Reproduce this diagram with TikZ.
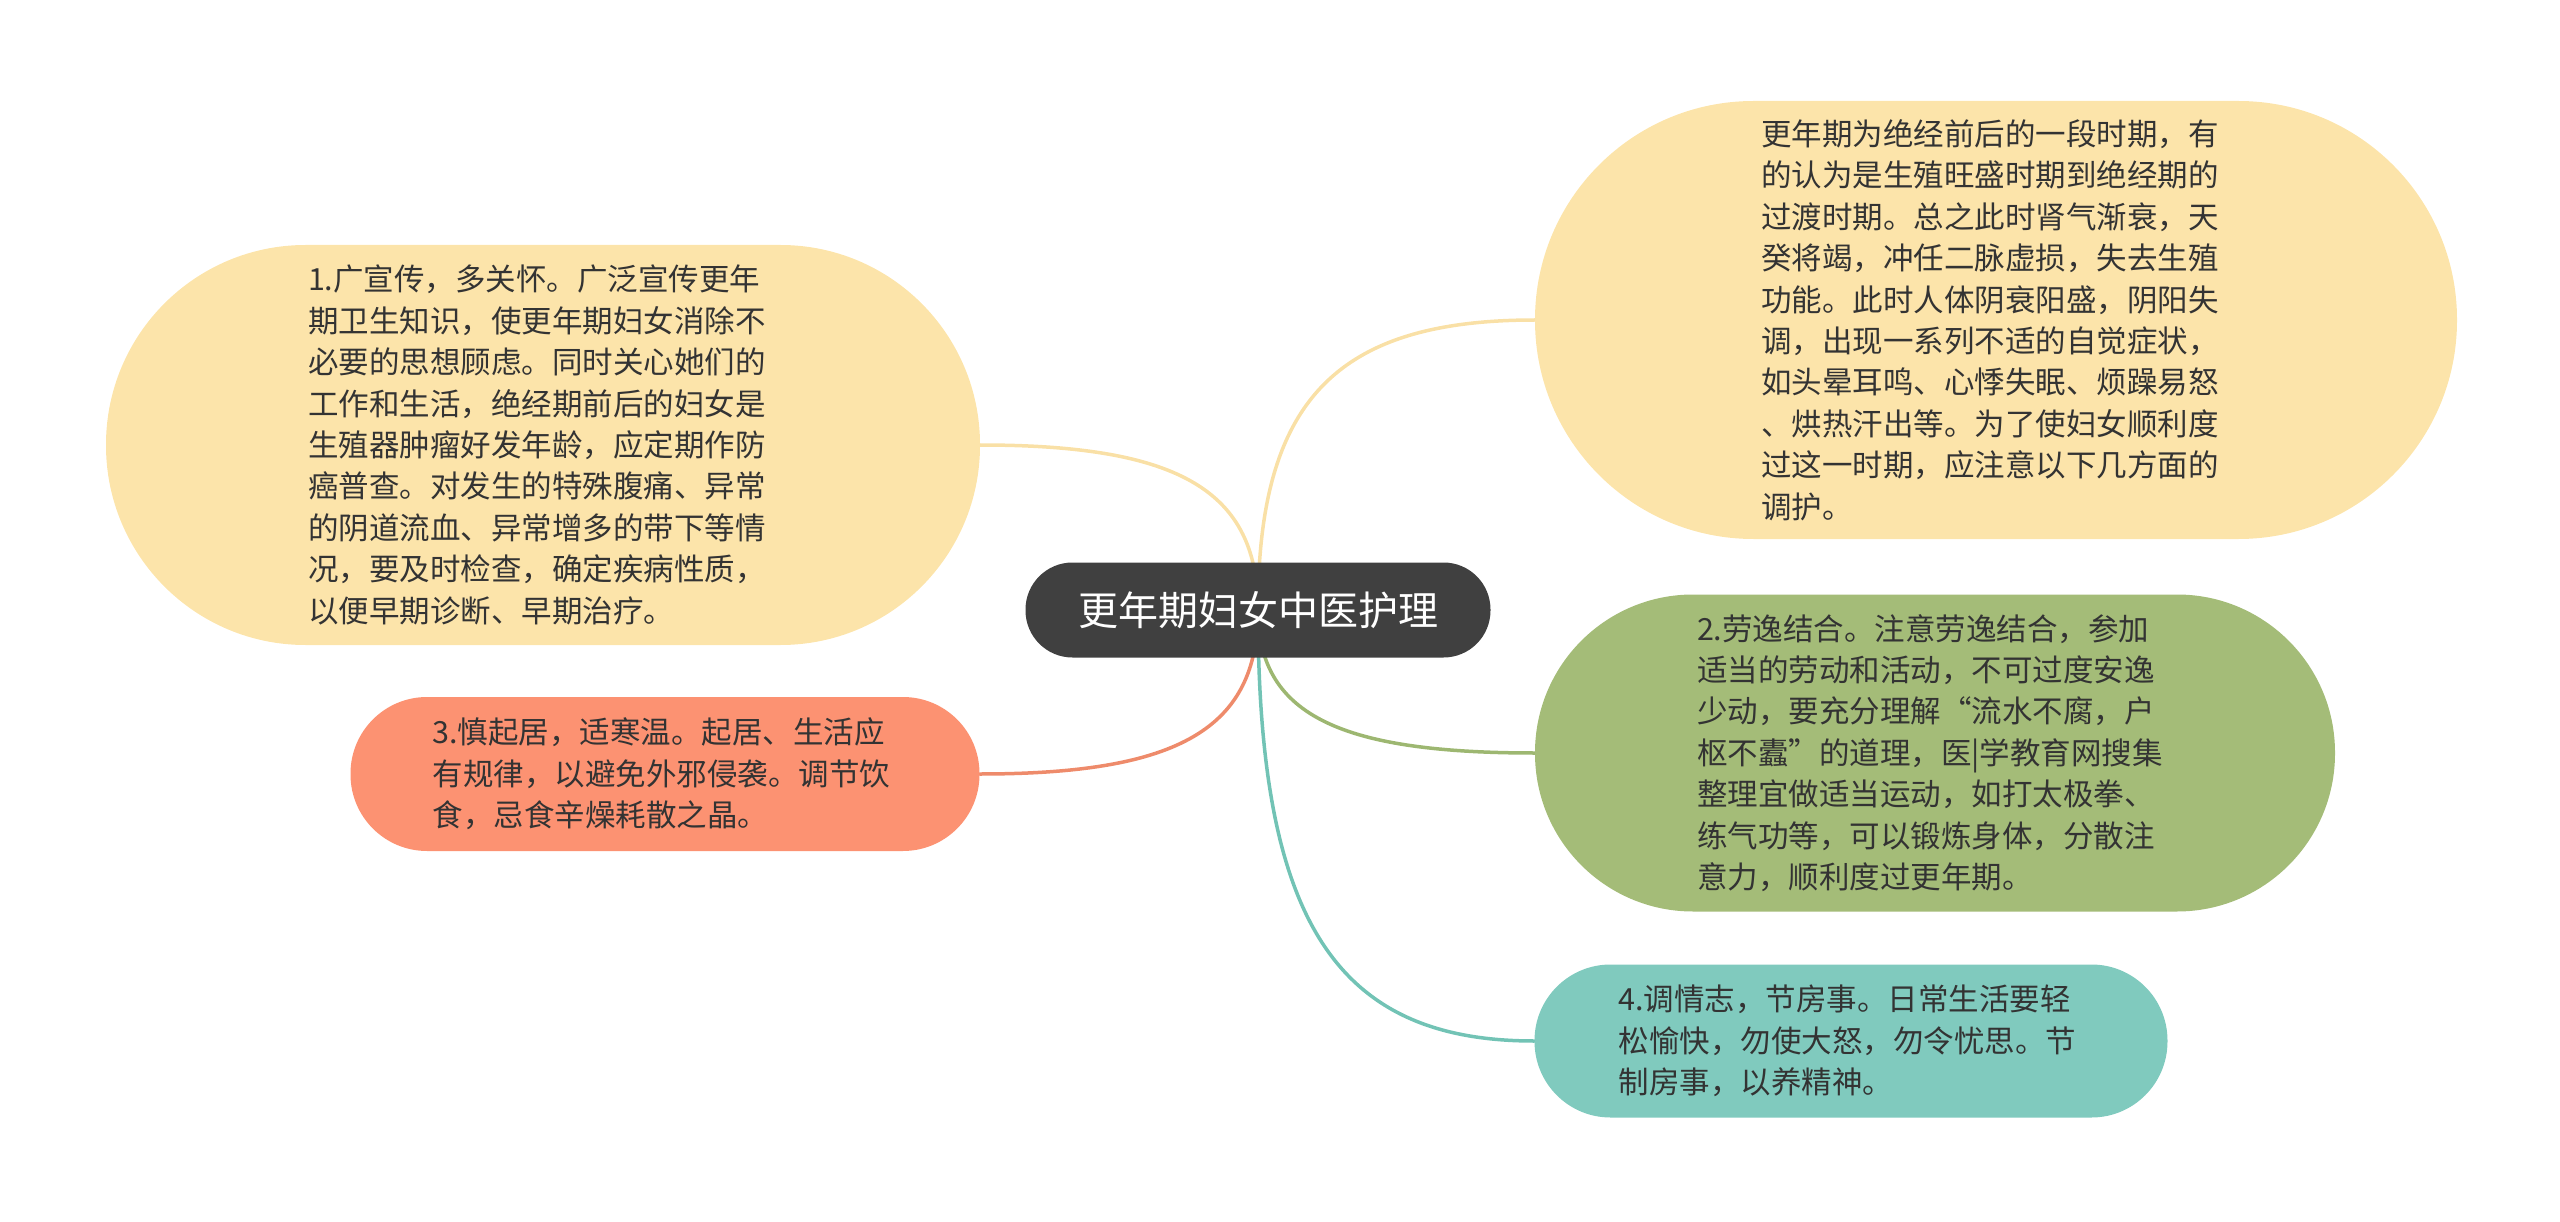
\documentclass[tikz,border=0pt]{standalone}
\usepackage{fontspec}
\setmainfont{Noto Sans CJK SC}
\usetikzlibrary{calc, backgrounds}
\definecolor{colour_root}{HTML}{404040}
\definecolor{colour_text}{HTML}{333333}
\definecolor{colour_yellow}{HTML}{FCE4AA}
\definecolor{colour_orange}{HTML}{FC9272}
\definecolor{colour_green}{HTML}{A4BC78}
\definecolor{colour_teal}{HTML}{80CABE}
\definecolor{line_yellow}{HTML}{F9E0A6}
\definecolor{line_orange}{HTML}{EE8B6B}
\definecolor{line_green}{HTML}{9DB771}
\definecolor{line_teal}{HTML}{72C3B5}

\begin{document}
\begin{tikzpicture}[
    x=1pt, y=-1pt,
    font=\fontsize{30.5}{41.4}\selectfont,
    topic/.style={rectangle, inner sep=0pt, align=left, text=colour_text},
    root_style/.style={rectangle, inner sep=0pt, fill=colour_root, text=white,
                       font=\fontsize{40}{48}\selectfont,
                       minimum width=465pt, minimum height=95pt, rounded corners=47pt},
    yellow/.style={fill=colour_yellow},
    orange/.style={fill=colour_orange},
    green/.style={fill=colour_green},
    teal/.style={fill=colour_teal},
    branch/.style={line width=3.5pt, line cap=round,
        to path={.. controls ($(\tikztostart)!0.72!(\tikztostart |- \tikztotarget)$)
                 and ($(\tikztotarget)!0.72!(\tikztostart |- \tikztotarget)$) .. (\tikztotarget)}}
]
\useasboundingbox (0,0) rectangle (2560,1222);

% Central topic
\node[root_style] (root) at (1258,610) {更年期妇女中医护理};

% Right side
\node[topic, yellow, text width=470pt, minimum width=922pt, minimum height=438pt,
      rounded corners=218.5pt] (intro) at (1996,320)
     {更年期为绝经前后的一段时期，有\\
      的认为是生殖旺盛时期到绝经期的\\
      过渡时期。总之此时肾气渐衰，天\\
      癸将竭，冲任二脉虚损，失去生殖\\
      功能。此时人体阴衰阳盛，阴阳失\\
      调，出现一系列不适的自觉症状，\\
      如头晕耳鸣、心悸失眠、烦躁易怒\\
      、烘热汗出等。为了使妇女顺利度\\
      过这一时期，应注意以下几方面的\\
      调护。};
\node[topic, green, text width=476pt, minimum width=800pt, minimum height=317pt,
      rounded corners=158pt] (rest) at (1935,753)
     {2.劳逸结合。注意劳逸结合，参加\\
      适当的劳动和活动，不可过度安逸\\
      少动，要充分理解“流水不腐，户\\
      枢不蠹”的道理，医|学教育网搜集\\
      整理宜做适当运动，如打太极拳、\\
      练气功等，可以锻炼身体，分散注\\
      意力，顺利度过更年期。};
\node[topic, teal, text width=465pt, minimum width=633pt, minimum height=153pt,
      rounded corners=76pt] (mood) at (1851,1041)
     {4.调情志，节房事。日常生活要轻\\
      松愉快，勿使大怒，勿令忧思。节\\
      制房事，以养精神。};

% Left side
\node[topic, yellow, text width=470pt, minimum width=874pt, minimum height=400pt,
      rounded corners=199.5pt] (care) at (543,445)
     {1.广宣传，多关怀。广泛宣传更年\\
      期卫生知识，使更年期妇女消除不\\
      必要的思想顾虑。同时关心她们的\\
      工作和生活，绝经期前后的妇女是\\
      生殖器肿瘤好发年龄，应定期作防\\
      癌普查。对发生的特殊腹痛、异常\\
      的阴道流血、异常增多的带下等情\\
      况，要及时检查，确定疾病性质，\\
      以便早期诊断、早期治疗。};
\node[topic, orange, text width=465pt, minimum width=629pt, minimum height=154pt,
      rounded corners=76.5pt] (life) at (665,774)
     {3.慎起居，适寒温。起居、生活应\\
      有规律，以避免外邪侵袭。调节饮\\
      食，忌食辛燥耗散之晶。};

% Branches
\begin{scope}[on background layer]
\draw[branch, line_yellow] (root.center) to (intro.west);
\draw[branch, line_green] (root.center) to (rest.west);
\draw[branch, line_teal] (root.center) to (mood.west);
\draw[branch, line_yellow] (root.center) to (care.east);
\draw[branch, line_orange] (root.center) to (life.east);
\end{scope}

\end{tikzpicture}
\end{document}
